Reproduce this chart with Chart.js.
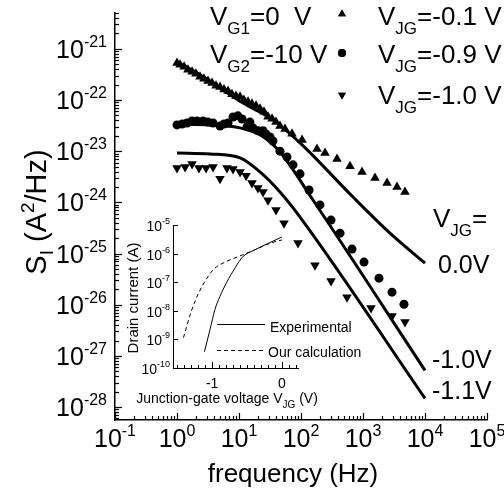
<!DOCTYPE html>
<html><head><meta charset="utf-8">
<script src="https://cdn.jsdelivr.net/npm/chart.js@4/dist/chart.umd.min.js"></script>
<style>
html,body{margin:0;padding:0;background:#fff;overflow:hidden}
#wrap{position:relative;width:504px;height:494px;background:#fff}
canvas{position:absolute;left:0;top:0}
</style>
</head><body>
<div id="wrap"><canvas id="main" width="504" height="494"></canvas><canvas id="inset" width="504" height="494"></canvas></div>
<script>
const FONT = '"Liberation Sans", Arial, sans-serif';

// ---------- main chart data (frequency in Hz, S_I in A^2/Hz) ----------
const triUpFreq = [1,1.12,1.3,1.5,1.75,2.02,2.35,2.72,3.16,3.67,4.26,4.94,5.73,6.65,7.71,8.95,10.4,12,14,16.2,18.8,21.8,25.3,29.4,34.1,39.5,45.8,55.2,71.6,104,181,244,381,617,964,1563,2440,3533,4755];
const triUpS    = [5.3e-22,4.9e-22,4.45e-22,3.9e-22,3.55e-22,3.25e-22,2.85e-22,2.6e-22,2.35e-22,2.15e-22,1.9e-22,1.8e-22,1.6e-22,1.5e-22,1.3e-22,1.2e-22,1.15e-22,1.0e-22,9.2e-23,8.4e-23,7.7e-23,6.7e-23,5.9e-23,4.7e-23,4.3e-23,3.7e-23,3.1e-23,2.7e-23,2.2e-23,1.66e-23,1.1e-23,9.2e-24,7.0e-24,5.1e-24,3.9e-24,3.0e-24,2.4e-24,2.0e-24,1.6e-24];

const circFreq = [1,1.21,1.45,1.75,2.1,2.63,3.16,3.81,4.94,5.73,6.65,8.0,9.6,11.2,13.5,15.0,16.8,20.2,24.4,27.2,31.6,35.3,45.8,59.4,74.3,96.4,135,202,305,426,665,1038,1811,2938,4582];
const circS    = [3.26e-23,3.4e-23,3.55e-23,3.9e-23,3.9e-23,3.9e-23,3.7e-23,3.55e-23,3.1e-23,3.4e-23,3.55e-23,4.65e-23,4.9e-23,4.25e-23,3.0e-23,3.7e-23,2.85e-23,2.5e-23,2.5e-23,2.17e-23,1.9e-23,1.58e-23,1.0e-23,7.7e-24,5.4e-24,3.6e-24,1.74e-24,8.9e-25,4.5e-25,2.5e-25,1.22e-25,6.8e-26,3.3e-26,1.76e-26,1.02e-26];

const triDnFreq = [1,1.35,1.75,2.26,2.94,3.81,4.94,6.4,8.0,10.4,13.0,16.2,20.2,24.4,29.4,39.5,53.2,89.5,168,305,552,1346,2938,4755];
const triDnS    = [4.7e-24,4.9e-24,5.6e-24,4.7e-24,4.7e-24,4.9e-24,2.9e-24,4.7e-24,4.5e-24,3.9e-24,3.3e-24,2.4e-24,1.9e-24,1.6e-24,1.1e-24,7.1e-25,3.9e-25,1.6e-25,5.9e-26,2.9e-26,1.4e-26,8.6e-27,6.0e-27,4.6e-27];

// model curves
const line00Freq = [1,2.35,11.6,35.3,96.4,690,2722,10000];
const line00S    = [5.57e-22,3.1e-22,8.77e-23,4.08e-23,1.45e-23,1.27e-24,2.51e-25,6.49e-26];
const line10Freq = [1,3.41,10.4,23.5,45.8,156,10000];
const line10S    = [3.4e-23,3.26e-23,2.85e-23,1.98e-23,9.63e-24,1.11e-24,5.22e-28];
const line11Freq = [1,3.41,10.4,21.8,45.8,96.4,10000];
const line11S    = [9.22e-24,8.82e-24,7.36e-24,3.92e-24,1.59e-24,5.16e-25,1.48e-28];

const xTickExponents = [-1,0,1,2,3,4,5];
const yTickExponents = [-21,-22,-23,-24,-25,-26,-27,-28];

// ---------- inset data (junction-gate voltage V, drain current A) ----------
const expV  = [-1.11,-1.03,-0.96,-0.89,-0.79,-0.67,-0.56,-0.39,-0.21,0];
const expI  = [3.7e-10,2.2e-9,1.1e-8,3.1e-8,1.0e-7,3.2e-7,7.8e-7,1.35e-6,2.2e-6,3.8e-6];
const calcV = [-1.41,-1.30,-1.19,-1.09,-0.97,-0.81,-0.6,-0.39,-0.17,0];
const calcI = [1.15e-9,9.3e-9,4.3e-8,1.2e-7,2.95e-7,5.1e-7,8.3e-7,1.35e-6,2.3e-6,3.0e-6];
const insetYTickExponents = [-5,-6,-7,-8,-9,-10];
const insetXTickValues = [-1,0];

const mk = (xs, ys) => xs.map((x, i) => ({x: x, y: ys[i]}));

function drawRich(ctx, x, y, parts, align) {
  let w = 0;
  parts.forEach(p => { ctx.font = p[1] + 'px ' + FONT; w += ctx.measureText(p[0]).width; });
  let cx = align === 'right' ? x - w : (align === 'center' ? x - w / 2 : x);
  parts.forEach(p => {
    ctx.font = p[1] + 'px ' + FONT;
    ctx.fillText(p[0], cx, y + (p[2] || 0));
    cx += ctx.measureText(p[0]).width;
  });
}

const mainDecor = {
  id: 'mainDecor',
  afterDraw(chart) {
    const ctx = chart.ctx, xs = chart.scales.x, ys = chart.scales.y, ca = chart.chartArea;
    ctx.save();
    ctx.strokeStyle = '#000'; ctx.fillStyle = '#000'; ctx.lineWidth = 1.2;
    ctx.textBaseline = 'alphabetic'; ctx.textAlign = 'left';
    // inward ticks
    for (let e = -30; e <= 6; e++) {
      for (let m = 1; m <= 9; m++) {
        const v = m * Math.pow(10, e);
        if (v >= ys.min * 0.999 && v <= ys.max * 1.001) {
          const py = Math.round(ys.getPixelForValue(v)) + 0.5;
          ctx.beginPath(); ctx.moveTo(ca.left, py); ctx.lineTo(ca.left + (m === 1 ? 7 : 4), py); ctx.stroke();
        }
        if (v >= xs.min * 0.999 && v <= xs.max * 1.001) {
          const px = Math.round(xs.getPixelForValue(v)) + 0.5;
          ctx.beginPath(); ctx.moveTo(px, ca.bottom); ctx.lineTo(px, ca.bottom - (m === 1 ? 7 : 4)); ctx.stroke();
        }
      }
    }
    // tick labels
    yTickExponents.forEach(e => {
      const py = ys.getPixelForValue(Math.pow(10, e));
      drawRich(ctx, 107, py + 9, [['10', 25], [String(e), 16, -11]], 'right');
    });
    xTickExponents.forEach(e => {
      const px = xs.getPixelForValue(Math.pow(10, e));
      drawRich(ctx, px, 447, [['10', 25], [String(e), 16, -11]], 'center');
    });
    // axis titles
    drawRich(ctx, 293, 482, [['frequency (Hz)', 26]], 'center');
    ctx.save();
    ctx.translate(46, 212); ctx.rotate(-Math.PI / 2);
    drawRich(ctx, 0, 0, [['S', 29], ['I', 19, 7], [' (A', 29], ['2', 19, -12], ['/Hz)', 29]], 'center');
    ctx.restore();
    // annotations
    drawRich(ctx, 210, 25, [['V', 26], ['G1', 17, 9], ['=0  V', 26]]);
    drawRich(ctx, 210, 63, [['V', 26], ['G2', 17, 9], ['=-10 V', 26]]);
    const H = Chart.helpers;
    H.drawPoint(ctx, {pointStyle: 'triangle', radius: 4.5, rotation: 0, borderWidth: 0}, 342, 14);
    ctx.fill();
    H.drawPoint(ctx, {pointStyle: 'circle', radius: 4, rotation: 0, borderWidth: 0}, 342, 53);
    ctx.fill();
    H.drawPoint(ctx, {pointStyle: 'triangle', radius: 4.5, rotation: 180, borderWidth: 0}, 342, 95);
    ctx.fill();
    drawRich(ctx, 378, 25, [['V', 26], ['JG', 17, 9], ['=-0.1 V', 26]]);
    drawRich(ctx, 378, 63, [['V', 26], ['JG', 17, 9], ['=-0.9 V', 26]]);
    drawRich(ctx, 378, 104, [['V', 26], ['JG', 17, 9], ['=-1.0 V', 26]]);
    drawRich(ctx, 433, 227, [['V', 26], ['JG', 17, 9], ['=', 26]]);
    drawRich(ctx, 438, 273, [['0.0V', 25]]);
    drawRich(ctx, 432, 368, [['-1.0V', 25]]);
    drawRich(ctx, 432, 399, [['-1.1V', 25]]);
    ctx.restore();
  }
};

const markerBase = {showLine: false, backgroundColor: '#000', borderColor: '#000', borderWidth: 0, pointHoverRadius: 0};
const lineBase = {showLine: true, pointRadius: 0, borderColor: '#000', borderWidth: 3, cubicInterpolationMode: 'monotone', fill: false};

new Chart(document.getElementById('main'), {
  type: 'scatter',
  data: {datasets: [
    Object.assign({label: 'VJG=-0.1 V', data: mk(triUpFreq, triUpS), pointStyle: 'triangle', pointRadius: 5.5}, markerBase),
    Object.assign({label: 'VJG=-0.9 V', data: mk(circFreq, circS), pointStyle: 'circle', pointRadius: 4.5}, markerBase),
    Object.assign({label: 'VJG=-1.0 V', data: mk(triDnFreq, triDnS), pointStyle: 'triangle', rotation: 180, pointRadius: 5.5}, markerBase),
    Object.assign({label: '0.0V', data: mk(line00Freq, line00S)}, lineBase),
    Object.assign({label: '-1.0V', data: mk(line10Freq, line10S)}, lineBase),
    Object.assign({label: '-1.1V', data: mk(line11Freq, line11S)}, lineBase)
  ]},
  options: {
    responsive: false, animation: false, devicePixelRatio: 1,
    layout: {padding: {top: 13, right: 17, left: 0, bottom: 0}},
    plugins: {legend: {display: false}, tooltip: {enabled: false}},
    scales: {
      x: {type: 'logarithmic', min: 0.1, max: 1e5, ticks: {display: false}, grid: {display: false},
          border: {display: true, color: '#000', width: 1.5},
          afterFit: s => { s.height = 74; s.paddingLeft = 0; s.paddingRight = 0; }},
      y: {type: 'logarithmic', min: 5.6e-29, max: 5e-21, ticks: {display: false}, grid: {display: false},
          border: {display: true, color: '#000', width: 1.5},
          afterFit: s => { s.width = 115; s.paddingTop = 0; s.paddingBottom = 0; }}
    }
  },
  plugins: [mainDecor]
});

const insetDecor = {
  id: 'insetDecor',
  afterDraw(chart) {
    const ctx = chart.ctx, xs = chart.scales.x, ys = chart.scales.y, ca = chart.chartArea;
    ctx.save();
    ctx.strokeStyle = '#000'; ctx.fillStyle = '#000'; ctx.lineWidth = 1;
    ctx.textBaseline = 'alphabetic';
    insetYTickExponents.forEach(e => {
      const py = Math.round(ys.getPixelForValue(Math.pow(10, e))) + 0.5;
      ctx.beginPath(); ctx.moveTo(ca.left, py); ctx.lineTo(ca.left + 5, py); ctx.stroke();
      drawRich(ctx, 170, py + 5, [['10', 14], [String(e), 9, -7]], 'right');
    });
    for (let k = -15; k <= 2; k++) {
      const v = k / 10;
      if (v < xs.min || v > xs.max) continue;
      const px = Math.round(xs.getPixelForValue(v)) + 0.5;
      const len = (k % 10 === 0) ? 6 : 3;
      ctx.beginPath(); ctx.moveTo(px, ca.bottom); ctx.lineTo(px, ca.bottom - len); ctx.stroke();
    }
    insetXTickValues.forEach(v => {
      drawRich(ctx, xs.getPixelForValue(v), 388, [[String(v), 14]], 'center');
    });
    drawRich(ctx, 227, 403, [['Junction-gate voltage V', 14], ['JG', 10, 5], [' (V)', 14]], 'center');
    ctx.save();
    ctx.translate(138, 298); ctx.rotate(-Math.PI / 2);
    drawRich(ctx, 0, 0, [['Drain current (A)', 15]], 'center');
    ctx.restore();
    // legend
    ctx.beginPath(); ctx.moveTo(217, 324.5); ctx.lineTo(265, 324.5); ctx.stroke();
    drawRich(ctx, 270, 332, [['Experimental', 14]]);
    ctx.setLineDash([4, 3]);
    ctx.beginPath(); ctx.moveTo(217, 350.5); ctx.lineTo(265, 350.5); ctx.stroke();
    ctx.setLineDash([]);
    drawRich(ctx, 268, 357, [['Our calculation', 14]]);
    ctx.restore();
  }
};

new Chart(document.getElementById('inset'), {
  type: 'scatter',
  data: {datasets: [
    {label: 'Experimental', data: mk(expV, expI), showLine: true, pointRadius: 0, borderColor: '#000', borderWidth: 1, cubicInterpolationMode: 'monotone'},
    {label: 'Our calculation', data: mk(calcV, calcI), showLine: true, pointRadius: 0, borderColor: '#000', borderWidth: 1, borderDash: [4, 3], cubicInterpolationMode: 'monotone'}
  ]},
  options: {
    responsive: false, animation: false, devicePixelRatio: 1,
    layout: {padding: {top: 225, right: 206, left: 173, bottom: 126}},
    plugins: {legend: {display: false}, tooltip: {enabled: false}},
    scales: {
      x: {type: 'linear', min: -1.56, max: 0.23, ticks: {display: false}, grid: {display: false},
          border: {display: true, color: '#000', width: 1},
          afterFit: s => { s.height = 0; s.paddingLeft = 0; s.paddingRight = 0; }},
      y: {type: 'logarithmic', min: 1e-10, max: 1e-5, ticks: {display: false}, grid: {display: false},
          border: {display: true, color: '#000', width: 1},
          afterFit: s => { s.width = 0; s.paddingTop = 0; s.paddingBottom = 0; }}
    }
  },
  plugins: [insetDecor]
});
</script>
</body></html>
